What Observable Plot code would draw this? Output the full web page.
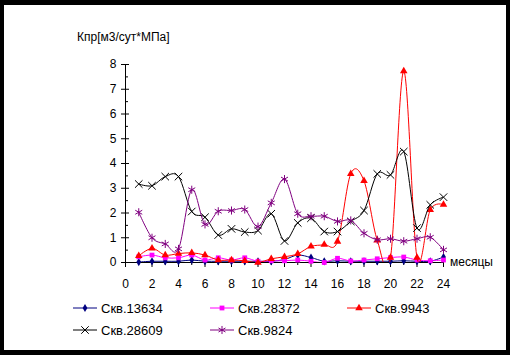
<!DOCTYPE html>
<html><head><meta charset="utf-8">
<script src="https://cdn.jsdelivr.net/npm/d3@7"></script>
<script src="https://cdn.jsdelivr.net/npm/@observablehq/plot@0.6"></script>
<style>
html,body{margin:0;padding:0;background:#fff;}
#frame{position:relative;width:510px;height:355px;box-sizing:border-box;border-style:solid;border-color:#000;border-width:5px 4px 5px 4px;background:#fff;overflow:hidden;font-family:"Liberation Sans",Arial,sans-serif;color:#000;}
#chart{position:absolute;left:0;top:0;}
.lbl{position:absolute;font-size:12px;line-height:14px;white-space:nowrap;}
.leg{position:absolute;height:16px;display:flex;align-items:center;font-size:13px;white-space:nowrap;}
.leg svg{display:block;margin-right:4px;}
</style>
</head><body>
<div id="frame">
  <div id="chart"></div>
  <div class="lbl" style="left:73px;top:25px;">Кпр[м3/сут*МПа]</div>
  <div class="lbl" style="left:446px;top:250px;">месяцы</div>
  <div id="legend"></div>
</div>
<script>
const months = [1,2,3,4,5,6,7,8,9,10,11,12,13,14,15,16,17,18,19,20,21,22,23,24];
const seriesNames = ["Скв.13634","Скв.28372","Скв.9943","Скв.28609","Скв.9824"];
const s13634 = [0.02,0.05,0.05,0.05,0.10,0.05,0.05,0.05,0.05,0.05,0.05,0.12,0.30,0.20,0.05,0.07,0.05,0.05,0.05,0.05,0.07,0.05,0.05,0.22];
const s28372 = [0.23,0.30,0.19,0.19,0.30,0.10,0.19,0.10,0.19,0.05,0.07,0.07,0.10,0.05,0.00,0.17,0.06,0.10,0.15,0.20,0.22,0.10,0.07,0.10];
const s9943  = [0.27,0.57,0.30,0.36,0.39,0.30,0.10,0.10,0.07,0.00,0.15,0.23,0.35,0.65,0.72,0.85,3.58,3.30,0.90,0.20,7.73,0.20,2.13,2.34];
const s28609 = [3.17,3.10,3.47,3.47,2.06,1.83,1.11,1.36,1.23,1.29,1.97,0.87,1.60,1.79,1.25,1.25,1.66,2.10,3.58,3.54,4.48,1.39,2.33,2.64];
const s9824  = [2.03,1.00,0.75,0.55,2.94,1.54,2.07,2.10,2.14,1.45,2.41,3.37,1.97,1.87,1.87,1.66,1.70,1.18,0.92,0.96,0.86,0.96,1.02,0.51];
const xTicks = [0,2,4,6,8,10,12,14,16,18,20,22,24];
const xMinor = [1,3,5,7,9,11,13,15,17,19,21,23];
const yTicks = [0,1,2,3,4,5,6,7,8];
const yMinor = [0.5,1.5,2.5,3.5,4.5,5.5,6.5,7.5];

const seriesValues = [s13634,s28372,s9943,s28609,s9824];
const styles = [
  {color:"#000080", symbol:"diamond", r:2.5, filled:true},
  {color:"#FF00FF", symbol:"square", r:2.7, filled:true},
  {color:"#FF0000", symbol:"triangle", r:2.8, filled:true},
  {color:"#000000", symbol:"times", r:3.5, filled:false},
  {color:"#800080", symbol:"asterisk", r:3.8, filled:false}
];

const marks = [
  Plot.axisY(yTicks, {tickSize:4, tickPadding:5, label:null, fontSize:12}),
  Plot.axisY(yTicks, {tickSize:4, dx:4, text:null, label:null}),
  Plot.axisY(yMinor, {tickSize:3, dx:3, text:null, label:null}),
  Plot.axisX(xTicks, {tickSize:5, tickPadding:12, label:null, fontSize:12}),
  Plot.axisX(xMinor, {tickSize:3, text:null, label:null}),
  Plot.ruleX([0], {stroke:"#000"}),
  Plot.ruleY([0], {stroke:"#000"})
];
seriesNames.forEach((name, i) => {
  const data = months.map((m, j) => ({month:m, value:seriesValues[i][j]}));
  const st = styles[i];
  marks.push(Plot.line(data, {x:"month", y:"value", stroke:st.color, strokeWidth:1, curve:"cardinal", clip:true}));
  marks.push(Plot.dot(data, st.filled
    ? {x:"month", y:"value", symbol:st.symbol, r:st.r, fill:st.color, stroke:"none"}
    : {x:"month", y:"value", symbol:st.symbol, r:st.r, stroke:st.color, strokeWidth:1, fill:"none"}));
});

const plot = Plot.plot({
  width:502, height:290,
  marginLeft:121, marginRight:63, marginTop:59, marginBottom:33,
  x:{domain:[0,24]}, y:{domain:[0,8]},
  style:{fontFamily:"'Liberation Sans', Arial, sans-serif", fontSize:"12px", color:"#000", background:"transparent", overflow:"visible"},
  marks
});
document.getElementById("chart").appendChild(plot);

// legend
const legendPos = [
  {left:69, top:295},{left:206, top:295},{left:343, top:295},
  {left:69, top:317},{left:206, top:317}
];
const legend = document.getElementById("legend");
seriesNames.forEach((name, i) => {
  const st = styles[i];
  const div = document.createElement("div");
  div.className = "leg";
  div.style.left = legendPos[i].left + "px";
  div.style.top = legendPos[i].top + "px";
  const symType = {diamond:d3.symbolDiamond, square:d3.symbolSquare, triangle:d3.symbolTriangle, times:d3.symbolTimes, asterisk:d3.symbolAsterisk}[st.symbol];
  const path = d3.symbol(symType, st.r*st.r*Math.PI)();
  const symAttr = st.filled ? `fill="${st.color}" stroke="none"` : `fill="none" stroke="${st.color}"`;
  div.innerHTML = `<svg width="24" height="16"><line x1="0" x2="24" y1="8" y2="8" stroke="${st.color}" stroke-width="1"/><path transform="translate(12,8)" d="${path}" ${symAttr}/></svg><span>${name}</span>`;
  legend.appendChild(div);
});
</script>
</body></html>
